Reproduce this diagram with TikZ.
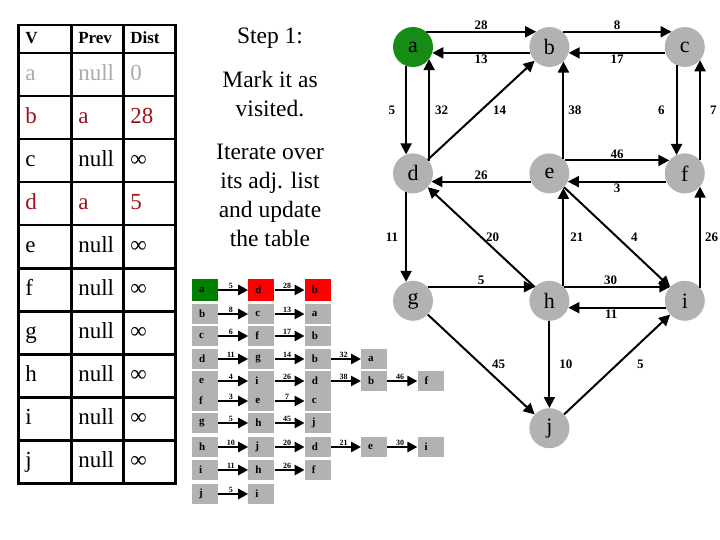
\documentclass[tikz,border=0pt]{standalone}
\usepackage{fontspec}
\setmainfont{Liberation Serif}
\usetikzlibrary{arrows.meta,positioning}

\definecolor{vgray}{RGB}{178,178,178}
\definecolor{lgtext}{RGB}{170,170,170}
\definecolor{dred}{RGB}{160,16,24}
\definecolor{vgreen}{RGB}{22,140,22}
\definecolor{lgreen}{RGB}{0,128,0}

\begin{document}
\begin{tikzpicture}[
    x=1pt, y=-1pt,
    cell/.style={rectangle, draw, line width=2.5pt, anchor=north west, inner xsep=7pt,
                 minimum height=43pt, align=left, text height=16pt, text depth=5pt,
                 font=\fontsize{23}{26}\selectfont},
    hcell/.style={cell, minimum height=28pt, text height=12pt, text depth=4pt,
                  font=\bfseries\fontsize{17}{19}\selectfont},
    info/.style={align=center, font=\fontsize{23.5}{29}\selectfont},
    vertex/.style={circle, fill=vgray, minimum size=40pt, inner sep=0pt,
                   font=\fontsize{22}{22}\selectfont},
    edge/.style={-{Triangle[length=11pt,width=11pt]}, line width=2pt},
    elbl/.style={inner sep=1pt, font=\bfseries\fontsize{13}{13}\selectfont},
    lbox/.style={rectangle, fill=vgray, minimum width=26pt, minimum height=20pt, inner sep=0pt,
                 text width=12pt, align=left, font=\bfseries\fontsize{11}{11}\selectfont},
    larrow/.style={-{Triangle[length=10pt,width=10pt]}, line width=2.5pt},
    lw/.style={above, inner sep=0.5pt, pos=0.42, font=\bfseries\fontsize{8}{8}\selectfont}
]
\useasboundingbox (0,0) rectangle (720,540);

% table
\node[hcell, minimum width=53pt, text width=39pt] (hv) at (17,24) {V};
\node[hcell, minimum width=52pt, text width=38pt] (hp) at (70,24) {Prev};
\node[hcell, minimum width=52pt, text width=38pt] (hd) at (122,24) {Dist};
\foreach \v/\p/\d/\c [count=\i from 0] in {a/null/0/lgtext, b/a/28/dred, c/null/∞/black,
    d/a/5/dred, e/null/∞/black, f/null/∞/black, g/null/∞/black, h/null/∞/black,
    i/null/∞/black, j/null/∞/black} {
  \node[cell, text=\c, minimum width=53pt, text width=39pt] (v\v) at (17,52+43*\i) {\v};
  \node[cell, text=\c, minimum width=52pt, text width=38pt] (p\v) at (70,52+43*\i) {\p};
  \node[cell, text=\c, minimum width=52pt, text width=38pt] (d\v) at (122,52+43*\i) {\d};
}

% step text
\node[info] (title) at (270,38) {Step 1:};
\node[info] (mark) at (270,94) {Mark it as\\visited.};
\node[info] (iterate) at (270,195) {Iterate over\\its adj. list\\and update\\the table};

% adjacency lists
\node[lbox, fill=lgreen, minimum height=22pt] (la) at (205,290) {a};
\node[lbox, fill=red, minimum height=22pt, right=30pt of la] (la1) {d};
\node[lbox, fill=red, minimum height=22pt, right=30pt of la1] (la2) {b};
\draw[larrow] (la) -- node[lw] {5} (la1);
\draw[larrow] (la1) -- node[lw] {28} (la2);

\node[lbox] (lb) at (205,314) {b};
\node[lbox, right=30pt of lb] (lb1) {c};
\node[lbox, right=30pt of lb1] (lb2) {a};
\draw[larrow] (lb) -- node[lw] {8} (lb1);
\draw[larrow] (lb1) -- node[lw] {13} (lb2);

\node[lbox] (lc) at (205,336) {c};
\node[lbox, right=30pt of lc] (lc1) {f};
\node[lbox, right=30pt of lc1] (lc2) {b};
\draw[larrow] (lc) -- node[lw] {6} (lc1);
\draw[larrow] (lc1) -- node[lw] {17} (lc2);

\node[lbox] (ld) at (205,359) {d};
\node[lbox, right=30pt of ld] (ld1) {g};
\node[lbox, right=30pt of ld1] (ld2) {b};
\node[lbox, right=30pt of ld2] (ld3) {a};
\draw[larrow] (ld) -- node[lw] {11} (ld1);
\draw[larrow] (ld1) -- node[lw] {14} (ld2);
\draw[larrow] (ld2) -- node[lw] {32} (ld3);

\node[lbox] (le) at (205,381) {e};
\node[lbox, right=30pt of le] (le1) {i};
\node[lbox, right=30pt of le1] (le2) {d};
\node[lbox, right=30pt of le2] (le3) {b};
\node[lbox, right=30pt of le3] (le4) {f};
\draw[larrow] (le) -- node[lw] {4} (le1);
\draw[larrow] (le1) -- node[lw] {26} (le2);
\draw[larrow] (le2) -- node[lw] {38} (le3);
\draw[larrow] (le3) -- node[lw] {46} (le4);

\node[lbox] (lf) at (205,401) {f};
\node[lbox, right=30pt of lf] (lf1) {e};
\node[lbox, right=30pt of lf1] (lf2) {c};
\draw[larrow] (lf) -- node[lw] {3} (lf1);
\draw[larrow] (lf1) -- node[lw] {7} (lf2);

\node[lbox] (lg) at (205,423) {g};
\node[lbox, right=30pt of lg] (lg1) {h};
\node[lbox, right=30pt of lg1] (lg2) {j};
\draw[larrow] (lg) -- node[lw] {5} (lg1);
\draw[larrow] (lg1) -- node[lw] {45} (lg2);

\node[lbox] (lh) at (205,447) {h};
\node[lbox, right=30pt of lh] (lh1) {j};
\node[lbox, right=30pt of lh1] (lh2) {d};
\node[lbox, right=30pt of lh2] (lh3) {e};
\node[lbox, right=30pt of lh3] (lh4) {i};
\draw[larrow] (lh) -- node[lw] {10} (lh1);
\draw[larrow] (lh1) -- node[lw] {20} (lh2);
\draw[larrow] (lh2) -- node[lw] {21} (lh3);
\draw[larrow] (lh3) -- node[lw] {30} (lh4);

\node[lbox] (li) at (205,470) {i};
\node[lbox, right=30pt of li] (li1) {h};
\node[lbox, right=30pt of li1] (li2) {f};
\draw[larrow] (li) -- node[lw] {11} (li1);
\draw[larrow] (li1) -- node[lw] {26} (li2);

\node[lbox] (lj) at (205,494) {j};
\node[lbox, right=30pt of lj] (lj1) {i};
\draw[larrow] (lj) -- node[lw] {5} (lj1);

% graph
\node[vertex, fill=vgreen] (a) at (413,47) {a};
\node[vertex, right=96pt of a] (b) {b};
\node[vertex, right=95pt of b] (c) {c};
\node[vertex, below=86pt of a] (d) {d};
\node[vertex, right=96pt of d] (e) {e};
\node[vertex, right=95pt of e] (f) {f};
\node[vertex, below=87pt of d] (g) {g};
\node[vertex, right=96pt of g] (h) {h};
\node[vertex, right=95pt of h] (i) {i};
\node[vertex, below=87pt of h] (j) {j};

\draw[edge] (a.49) -- node[elbl, above] {28} (b.131);
\draw[edge] (b.197) -- node[elbl, below] {13} (a.-17);
\draw[edge] (b.49) -- node[elbl, above] {8} (c.131);
\draw[edge] (c.197) -- node[elbl, below] {17} (b.-17);
\draw[edge] (a.-110) -- node[elbl, left=9pt] {5} (d.110);
\draw[edge] (d.37) -- node[elbl, right=4pt] {32} (a.-37);
\draw[edge] (d) -- node[elbl, right=10pt] {14} (b);
\draw[edge] (e.46) -- node[elbl, right=3pt] {38} (b.-46);
\draw[edge] (c.-114) -- node[elbl, left=10pt] {6} (f.114);
\draw[edge] (f.41) -- node[elbl, right=8pt] {7} (c.-41);
\draw[edge] (e.40) -- node[elbl, above] {46} (f.140);
\draw[edge] (f.204) -- node[elbl, below] {3} (e.-24);
\draw[edge] (e.204) -- node[elbl, above] {26} (d.-24);
\draw[edge] (d.-110) -- node[elbl, left=6pt] {11} (g.110);
\draw[edge] (h) -- node[elbl, right=3pt] {20} (d);
\draw[edge] (h.46) -- node[elbl, right=5pt] {21} (e.-46);
\draw[edge] (e) -- node[elbl, right=12pt] {4} (i);
\draw[edge] (i.41) -- node[elbl, right=3pt] {26} (f.-41);
\draw[edge] (g.44) -- node[elbl, above] {5} (h.136);
\draw[edge] (h.44) -- node[elbl, above, pos=.44] {30} (i.136);
\draw[edge] (i.200) -- node[elbl, below, pos=.56] {11} (h.-20);
\draw[edge] (g) -- node[elbl, right=9pt] {45} (j);
\draw[edge] (h) -- node[elbl, right=8pt] {10} (j);
\draw[edge] (j) -- node[elbl, right=18pt] {5} (i);
\end{tikzpicture}
\end{document}
